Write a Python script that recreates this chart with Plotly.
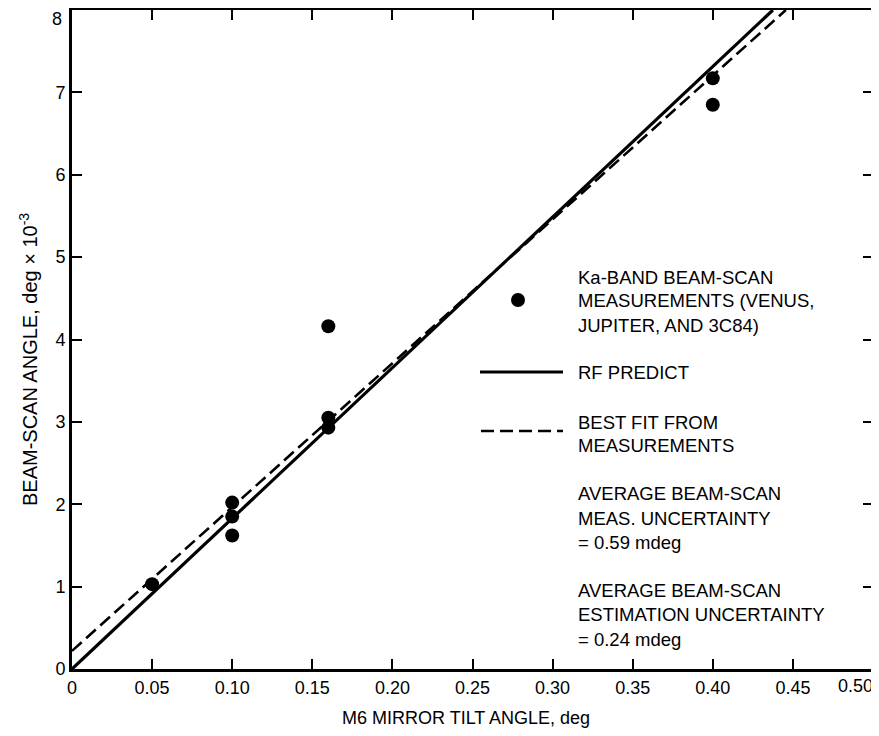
import plotly.graph_objects as go

# Measurements
meas_x = [0.05, 0.10, 0.10, 0.10, 0.16, 0.16, 0.16, 0.40, 0.40]
meas_y = [1.03, 2.02, 1.85, 1.62, 4.16, 3.05, 2.93, 7.17, 6.85]

# Lines (end points)
rf_x = [0.0, 0.4375]
rf_y = [0.0, 8.0]
fit_x = [0.0, 0.4456]
fit_y = [0.22, 8.0]

x_ticks = [0, 0.05, 0.10, 0.15, 0.20, 0.25, 0.30, 0.35, 0.40, 0.45, 0.50]
x_ticktext = ["0", "0.05", "0.10", "0.15", "0.20", "0.25", "0.30", "0.35", "0.40", "0.45", ""]
x_last_label = "0.50"
y_ticks = [0, 1, 2, 3, 4, 5, 6, 7, 8]
y_ticktext = ["0", "1", "2", "3", "4", "5", "6", "7", ""]
y_last_label = "8"

x_title = "M6 MIRROR TILT ANGLE, deg"
y_title = "BEAM-SCAN ANGLE, deg × 10<sup>-3</sup>"

legend_lines = [
    ("Ka-BAND BEAM-SCAN", 277),
    ("MEASUREMENTS (VENUS,", 301),
    ("JUPITER, AND 3C84)", 325),
    ("RF PREDICT", 372),
    ("BEST FIT FROM", 422),
    ("MEASUREMENTS", 446),
    ("AVERAGE BEAM-SCAN", 493),
    ("MEAS. UNCERTAINTY", 518),
    ("= 0.59 mdeg", 542),
    ("AVERAGE BEAM-SCAN", 590),
    ("ESTIMATION UNCERTAINTY", 614),
    ("= 0.24 mdeg", 639),
]

FONT = "Liberation Sans, Arial, Helvetica, sans-serif"
FS = 18
OFF = 8  # page body margin
W, H = 871, 728
# plot area in screen pixels: x 72..873, y 10..669
L, T = 72 - OFF, 10 - OFF
R = W - (873 - OFF)
B = H - (669 - OFF)
PW, PH = W - L - R, H - T - B

def px(xs):
    return (xs - OFF - L) / PW

def py(ys):
    return (H - B - (ys - OFF)) / PH

DASH = "13px,6px"

fig = go.Figure()
fig.add_trace(go.Scatter(x=rf_x, y=rf_y, mode="lines",
                         line=dict(color="black", width=3.2), showlegend=False))
fig.add_trace(go.Scatter(x=fit_x, y=fit_y, mode="lines",
                         line=dict(color="black", width=2.6, dash=DASH), showlegend=False))
fig.add_trace(go.Scatter(x=meas_x, y=meas_y, mode="markers",
                         marker=dict(color="black", size=14), showlegend=False))

annotations = []
for text, ypix in legend_lines:
    annotations.append(dict(x=px(576), y=py(ypix), xref="paper", yref="paper",
                            text=text, showarrow=False, xanchor="left", yanchor="middle",
                            font=dict(family=FONT, size=18.5, color="black")))
# axis titles
annotations.append(dict(x=px(466), y=py(718), xref="paper", yref="paper", text=x_title,
                        showarrow=False, xanchor="center", yanchor="middle",
                        font=dict(family=FONT, size=FS, color="black")))
annotations.append(dict(x=px(28), y=py(360), xref="paper", yref="paper", text=y_title,
                        showarrow=False, xanchor="center", yanchor="middle", textangle=-90,
                        font=dict(family=FONT, size=20, color="black")))
# end tick labels that would otherwise be clipped
annotations.append(dict(x=px(875), y=py(686), xref="paper", yref="paper", text=x_last_label,
                        showarrow=False, xanchor="right", yanchor="middle",
                        font=dict(family=FONT, size=FS, color="black")))
annotations.append(dict(x=px(64), y=py(19), xref="paper", yref="paper", text=y_last_label,
                        showarrow=False, xanchor="right", yanchor="middle",
                        font=dict(family=FONT, size=FS, color="black")))

shapes = [
    dict(type="circle", xref="paper", yref="paper", xsizemode="pixel", ysizemode="pixel",
         xanchor=px(518), yanchor=py(300), x0=-7, x1=7, y0=-7, y1=7,
         fillcolor="black", line=dict(color="black", width=0)),
    dict(type="line", xref="paper", yref="paper", x0=px(480), x1=px(563),
         y0=py(372), y1=py(372), line=dict(color="black", width=3)),
    dict(type="line", xref="paper", yref="paper", x0=px(481), x1=px(563),
         y0=py(431), y1=py(431), line=dict(color="black", width=2.6, dash=DASH)),
]

fig.update_layout(
    width=W, height=H,
    margin=dict(l=L, r=R, t=T, b=B, autoexpand=False),
    paper_bgcolor="white", plot_bgcolor="white",
    font=dict(family=FONT, size=FS, color="black"),
    annotations=annotations, shapes=shapes,
    xaxis=dict(range=[0, 0.5], tickvals=x_ticks, ticktext=x_ticktext,
               ticks="inside", ticklen=10, tickwidth=2, tickcolor="black",
               showline=True, linewidth=3, linecolor="black", mirror="ticks",
               showgrid=False, zeroline=False, automargin=False,
               tickfont=dict(size=FS)),
    yaxis=dict(range=[0, 8], tickvals=y_ticks, ticktext=y_ticktext,
               ticks="inside", ticklen=10, tickwidth=2, tickcolor="black",
               showline=True, linewidth=3, linecolor="black", mirror="ticks",
               showgrid=False, zeroline=False, automargin=False,
               tickfont=dict(size=FS)),
)

fig.write_html("out.html")
